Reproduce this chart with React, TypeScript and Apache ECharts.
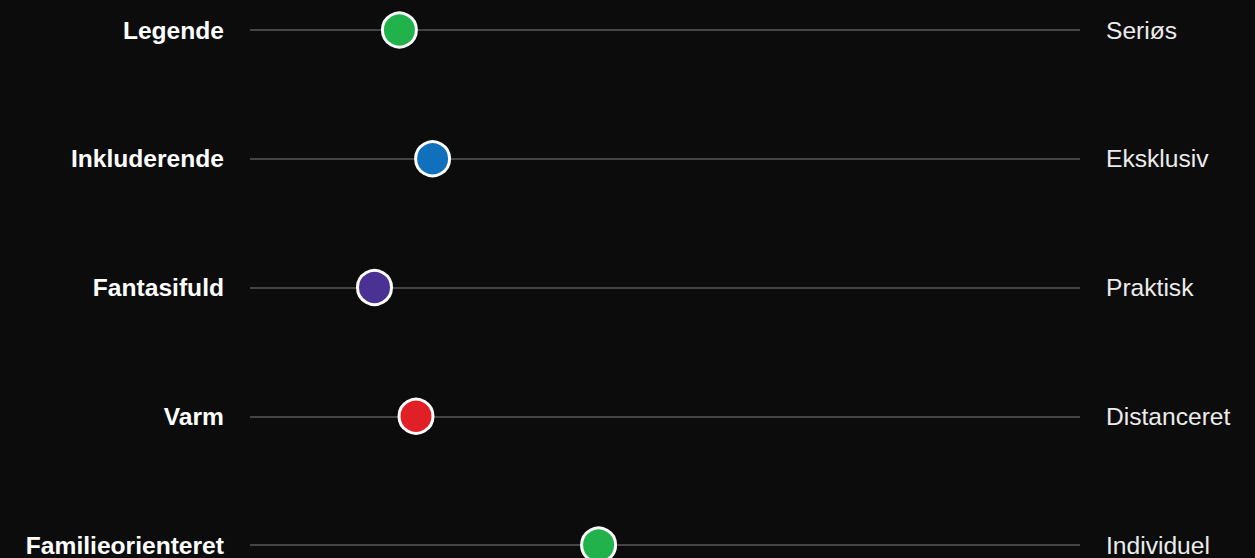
import React, { useEffect, useRef } from "react";
import * as echarts from "echarts";

const leftLabels = ["Legende", "Inkluderende", "Fantasifuld", "Varm", "Familieorienteret"];
const rightLabels = ["Seriøs", "Eksklusiv", "Praktisk", "Distanceret", "Individuel"];
const scores = [18, 22, 15, 20, 42];
const dotColors = ["#22b24c", "#1170bb", "#4a3294", "#e01f26", "#22b24c"];

export default function App() {
  const ref = useRef<HTMLDivElement>(null);
  useEffect(() => {
    document.body.style.margin = "0";
    document.body.style.background = "#0c0c0c";
    const chart = echarts.init(ref.current!, null, { renderer: "svg" });
    chart.setOption({
      animation: false,
      backgroundColor: "#0c0c0c",
      grid: { left: 250, right: 175, top: 30, bottom: 13, containLabel: false },
      xAxis: {
        type: "value",
        min: 0,
        max: 100,
        show: false,
      },
      yAxis: [
        {
          type: "category",
          data: leftLabels,
          inverse: true,
          boundaryGap: false,
          position: "left",
          axisLine: { show: false },
          axisTick: { show: false },
          axisLabel: {
            margin: 26,
            color: "#ffffff",
            fontSize: 24.6,
            fontWeight: "bold",
            fontFamily: "Liberation Sans, Arial, sans-serif",
          },
          splitLine: { show: true, lineStyle: { color: "#454545", width: 2 } },
        },
        {
          type: "category",
          data: rightLabels,
          inverse: true,
          boundaryGap: false,
          position: "right",
          axisLine: { show: false },
          axisTick: { show: false },
          axisLabel: {
            margin: 26,
            color: "#ececec",
            fontSize: 24.6,
            fontFamily: "Liberation Sans, Arial, sans-serif",
          },
          splitLine: { show: false },
        },
      ],
      series: [
        {
          type: "scatter",
          yAxisIndex: 0,
          symbol: "circle",
          symbolSize: 34,
          data: scores.map((v, i) => ({
            value: [v, i],
            itemStyle: { color: dotColors[i], borderColor: "#ffffff", borderWidth: 3, opacity: 1 },
          })),
        },
      ],
    });
    return () => chart.dispose();
  }, []);
  return <div ref={ref} style={{ position: "absolute", left: 0, top: 0, width: 1255, height: 558 }} />;
}
